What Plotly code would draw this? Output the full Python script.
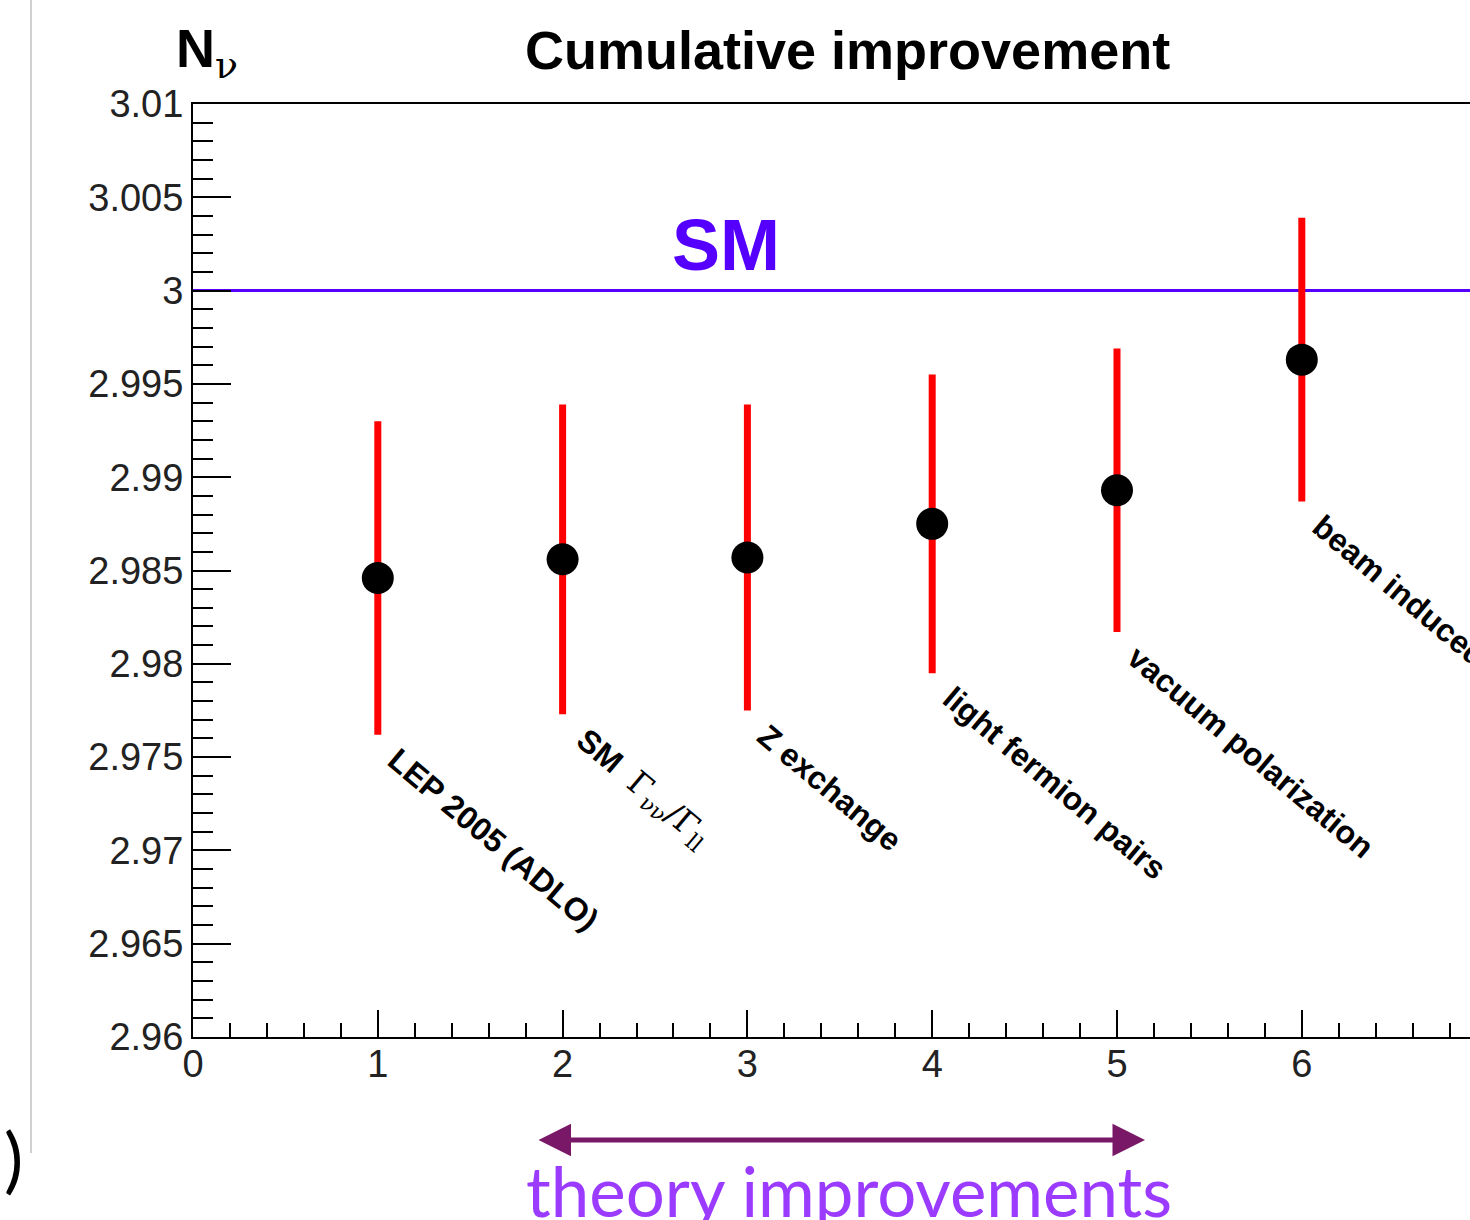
import plotly.graph_objects as go

# Cumulative improvement of the N_nu determination
steps = [1, 2, 3, 4, 5, 6]
step_labels = [
    "LEP 2005 (ADLO)",
    "SM",
    "Z exchange",
    "light fermion pairs",
    "vacuum polarization",
    "beam induced",
]
n_nu = [2.9846, 2.9856, 2.9857, 2.9875, 2.9893, 2.9963]
n_nu_err = [0.0084, 0.0083, 0.0082, 0.0080, 0.0076, 0.0076]
sm_value = 3.0

y_ticks = [2.96, 2.965, 2.97, 2.975, 2.98, 2.985, 2.99, 2.995, 3.0, 3.005, 3.01]
y_tick_text = ["2.96", "2.965", "2.97", "2.975", "2.98", "2.985", "2.99", "2.995", "3", "3.005", "3.01"]
x_ticks = [0, 1, 2, 3, 4, 5, 6]

W, H = 1470, 1220
ML, MT, MB = 193, 104, 183
PW, PH = W - ML, H - MT - MB


# helpers: page pixel position -> paper (plot-area) fraction
def px(xp):
    return (xp - ML) / PW


def py(yp):
    return (H - MB - yp) / PH


fig = go.Figure()

# SM reference line
fig.add_trace(go.Scatter(
    x=[0, 7], y=[sm_value, sm_value], mode="lines",
    line=dict(color="#5500FF", width=3), hoverinfo="skip", showlegend=False,
))

# error bars drawn as thick red segments
for xi, v, e in zip(steps, n_nu, n_nu_err):
    fig.add_trace(go.Scatter(
        x=[xi, xi], y=[v - e, v + e], mode="lines",
        line=dict(color="#FF0000", width=7), hoverinfo="skip", showlegend=False,
    ))

# central values
fig.add_trace(go.Scatter(
    x=steps, y=n_nu, mode="markers",
    marker=dict(color="black", size=32), showlegend=False,
))

font_main = "Liberation Sans, Arial, sans-serif"

# rotated step labels below each error bar
for xi, v, e, lab in zip(steps, n_nu, n_nu_err, step_labels):
    if lab == "SM":
        text = ("<b>SM</b>  <span style='font-family:DejaVu Serif;font-size:32px'>Γ"
                "<sub>νν</sub>/Γ<sub>ll</sub></span>")
    else:
        text = "<b>" + lab + "</b>"
    fig.add_annotation(
        x=xi, y=v - e, xref="x", yref="y", text=text, showarrow=False,
        textangle=40, xanchor="left", yanchor="top", xshift=1, yshift=-4,
        font=dict(family=font_main, size=32, color="black"),
    )


def page_text(xp, yp, text, size, color="black", family=font_main, xanchor="center"):
    fig.add_annotation(
        x=px(xp), y=py(yp), xref="paper", yref="paper", text=text, showarrow=False,
        xanchor=xanchor, yanchor="middle",
        font=dict(family=family, size=size, color=color),
    )


# SM label
page_text(726, 245, "<b>SM</b>", 72, color="#5500FF")

fig.update_layout(
    width=W, height=H,
    margin=dict(l=ML, r=0, t=MT, b=MB),
    plot_bgcolor="white", paper_bgcolor="white",
    showlegend=False,
    xaxis=dict(
        range=[0, PW / 184.8], tickvals=x_ticks, ticktext=[str(t) for t in x_ticks],
        ticks="inside", ticklen=27, tickwidth=2, tickcolor="black",
        showline=True, linecolor="black", linewidth=2, mirror=True,
        showgrid=False, zeroline=False, ticklabelstandoff=-8,
        tickfont=dict(family=font_main, size=38, color="#222"),
        minor=dict(dtick=0.2, ticks="inside", ticklen=14, tickwidth=2, tickcolor="black", showgrid=False),
    ),
    yaxis=dict(
        range=[2.96, 3.01], tickvals=y_ticks, ticktext=y_tick_text,
        ticks="inside", ticklen=38, tickwidth=2, tickcolor="black",
        showline=True, linecolor="black", linewidth=2,
        showgrid=False, zeroline=False,
        tickfont=dict(family=font_main, size=38, color="#222"),
        minor=dict(dtick=0.001, tick0=2.96, ticks="inside", ticklen=20, tickwidth=2, tickcolor="black", showgrid=False),
    ),
)

# title and axis title
page_text(847, 50, "<b>Cumulative improvement</b>", 54)
page_text(174, 52, "<b>N</b><sub><span style='font-family:DejaVu Serif'>ν</span></sub>", 54,
          xanchor="left")

# theory improvements arrow and caption
fig.add_annotation(
    x=px(1145), y=py(1140), ax=-(1145 - 537), ay=0,
    xref="paper", yref="paper", axref="pixel", ayref="pixel",
    text="", showarrow=True, arrowhead=2, arrowside="end+start",
    arrowsize=1.3, arrowwidth=5, arrowcolor="#7A1868",
)
page_text(849, 1190, "theory improvements", 69, color="#9B3BFF",
          family="Lato, Open Sans, sans-serif")

# slide furniture at the left edge
fig.add_shape(
    type="line", xref="paper", yref="paper",
    x0=px(31), x1=px(31), y0=py(0), y1=py(1153),
    line=dict(color="#D0D0D0", width=2),
)
page_text(13, 1157, ")", 72, family="Lato, sans-serif")

fig.write_html("out.html")
